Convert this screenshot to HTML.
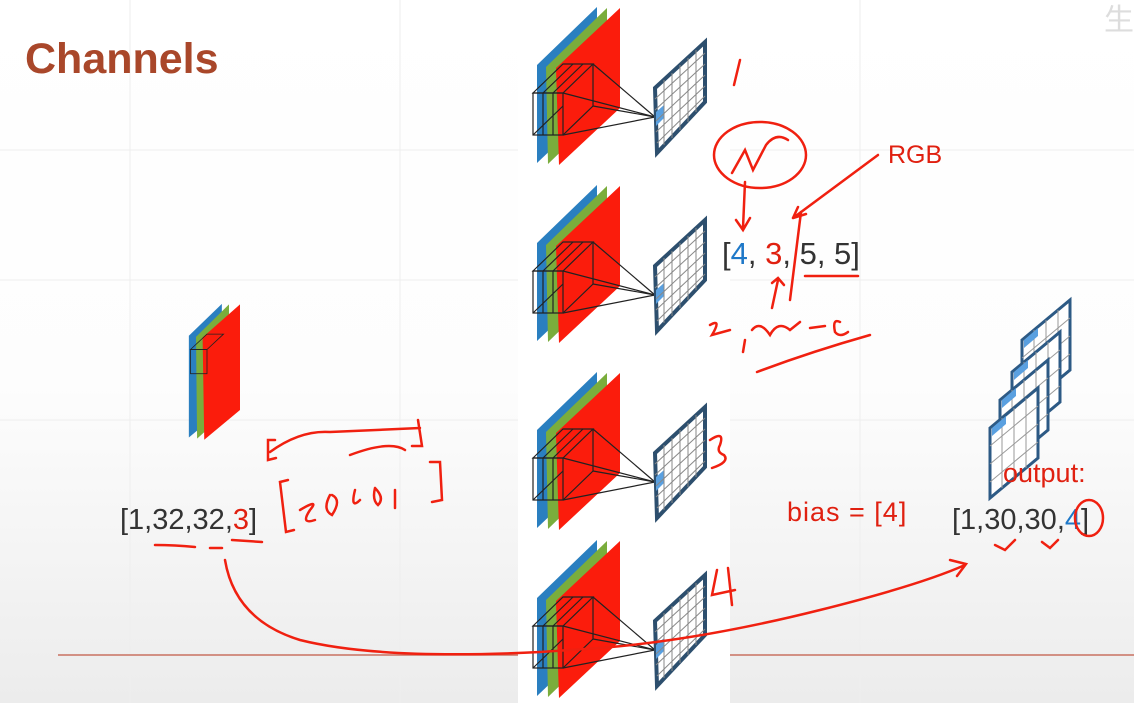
<!DOCTYPE html>
<html><head><meta charset="utf-8"><style>
html,body{margin:0;padding:0;width:1134px;height:703px;overflow:hidden;background:#fff;}
svg{display:block;font-family:"Liberation Sans",sans-serif;}
</style></head><body>
<svg width="1134" height="703" viewBox="0 0 1134 703">
<defs>
<linearGradient id="bg" x1="0" y1="0" x2="0" y2="1">
<stop offset="0" stop-color="#ffffff"/><stop offset="0.55" stop-color="#fdfdfd"/><stop offset="1" stop-color="#ececec"/>
</linearGradient>
<g id="stack">
<polygon points="537,65 597,7 597,106 537,163" fill="#2a7fc0"/>
<polygon points="546,67 607,8 607,107 548,164" fill="#7aad3c"/>
<polygon points="556,68 620,8 620,108 559,165" fill="#fb1c0c"/>
<g fill="none" stroke="#222" stroke-width="1.2">
<polygon points="533,93 563,64 593,64 563,93"/>
<rect x="533" y="93" width="30" height="42"/>
<polyline points="563,135 593,106 593,64"/>
<line x1="543" y1="93" x2="573" y2="64"/><line x1="553" y1="93" x2="583" y2="64"/>
<line x1="543" y1="93" x2="543" y2="135"/><line x1="553" y1="93" x2="553" y2="135"/>
<line x1="533" y1="135" x2="563" y2="106"/>
<line x1="563" y1="93" x2="655" y2="117"/><line x1="563" y1="135" x2="655" y2="117"/>
<line x1="593" y1="64" x2="655" y2="117"/><line x1="593" y1="106" x2="655" y2="117"/>
</g>
<polygon points="655,88 705,42 705,102 657,153" fill="#fff" stroke="#2d4f6e" stroke-width="4"/>
<polygon points="656,112 664,105 664,118 656,126" fill="#5aa0e0"/>
<g stroke="#888" stroke-width="1">
<line x1="664" y1="80" x2="664" y2="145"/><line x1="672" y1="73" x2="672" y2="138"/>
<line x1="680" y1="65" x2="680" y2="130"/><line x1="688" y1="58" x2="688" y2="122"/><line x1="696" y1="50" x2="696" y2="112"/>
<line x1="655" y1="99" x2="705" y2="53"/><line x1="655" y1="110" x2="705" y2="64"/>
<line x1="656" y1="121" x2="705" y2="75"/><line x1="656" y1="132" x2="705" y2="86"/><line x1="657" y1="143" x2="705" y2="96"/>
</g>
</g>
<g id="fmap">
<polygon points="0,40 48,0 48,70 0,110" fill="#fff" stroke="#2d5a85" stroke-width="3"/>
<g stroke="#999" stroke-width="1"><line x1="12" y1="30" x2="12" y2="100"/><line x1="24" y1="20" x2="24" y2="90"/><line x1="36" y1="10" x2="36" y2="80"/>
<line x1="0" y1="58" x2="48" y2="18"/><line x1="0" y1="76" x2="48" y2="36"/><line x1="0" y1="94" x2="48" y2="54"/></g>
<polygon points="2,40 16,28 16,36 2,48" fill="#5aa0e0"/>
</g>
</defs>
<rect x="0" y="0" width="1134" height="703" fill="url(#bg)"/>
<g stroke="#eee" stroke-width="1">
<line x1="0" y1="150" x2="1134" y2="150"/><line x1="0" y1="280" x2="1134" y2="280"/><line x1="0" y1="420" x2="1134" y2="420"/>
<line x1="130" y1="0" x2="130" y2="703"/><line x1="400" y1="0" x2="400" y2="703"/><line x1="860" y1="0" x2="860" y2="703"/>
</g>
<line x1="58" y1="655" x2="1134" y2="655" stroke="#c87060" stroke-width="1.5"/>
<rect x="518" y="0" width="212" height="703" fill="#fff"/>
<text x="25" y="73" font-size="43" font-weight="bold" fill="#a9472a">Channels</text>
<text x="1104" y="30" font-size="30" fill="#ddd">生</text>

<use href="#stack" x="0" y="0"/>
<use href="#stack" x="0" y="178"/>
<use href="#stack" x="0" y="365"/>
<use href="#stack" x="0" y="533"/>

<g transform="translate(185,300) scale(0.55) translate(-530,0)">
<polygon points="537,65 597,7 597,200 537,250" fill="#2a7fc0"/>
<polygon points="550,67 610,8 610,200 552,252" fill="#7aad3c"/>
<polygon points="562,68 630,8 630,200 565,254" fill="#fb1c0c"/>
<g fill="none" stroke="#222" stroke-width="1.5"><polygon points="540,90 570,62 600,62 570,90"/><rect x="540" y="90" width="30" height="44"/></g>
</g>

<g>
<use href="#fmap" x="1022" y="300"/><use href="#fmap" x="1012" y="332"/><use href="#fmap" x="1000" y="360"/><use href="#fmap" x="990" y="388"/>
</g>

<text x="722" y="264" font-size="31" fill="#333">[<tspan fill="#1e78c8">4</tspan>, <tspan fill="#e02010">3</tspan>, 5, 5]</text>
<text x="888" y="163" font-size="25" fill="#e02010">RGB</text>
<text x="120" y="529" font-size="29" fill="#333">[1,32,32,<tspan fill="#e02010">3</tspan>]</text>
<text x="787" y="521" font-size="27" fill="#e02010" letter-spacing="1">bias = [4]</text>
<text x="1003" y="482" font-size="27" fill="#e02010">output:</text>
<text x="952" y="529" font-size="29" fill="#333">[1,30,30,<tspan fill="#1e78c8">4</tspan>]</text>

<g fill="none" stroke="#f02010" stroke-width="2.5" stroke-linecap="round">
<path d="M740,60 L734,85"/>
<ellipse cx="760" cy="155" rx="46" ry="33"/>
<path d="M732,173 L745,150 L753,170 L766,145 Q776,132 788,140"/>
<path d="M745,182 L743,228 M736,220 L743,230 L750,218"/>
<path d="M878,155 L793,218 M793,218 L806,214 M793,218 L798,207"/>
<path d="M801,212 L790,300"/>
<path d="M805,276 L858,276"/>
<path d="M772,308 L778,280 M772,283 L778,278 L784,285"/>
<path d="M710,325 Q722,318 712,335 L730,330 M745,340 L743,352 M752,330 Q760,320 770,335 Q778,320 790,330 L800,322 M810,328 L825,326 M840,322 Q832,318 835,332 Q840,338 848,332"/>
<path d="M757,372 Q810,352 870,335"/>
<path d="M275,440 L268,440 L268,460 L276,458 M270,452 Q300,430 330,432 L420,428 M418,420 L422,446 L412,446 M350,455 Q390,440 405,450"/>
<path d="M288,480 L280,482 L286,532 L294,530 M300,510 Q320,498 310,510 Q300,525 315,520 M330,495 Q322,510 332,515 Q342,500 332,495 M355,490 Q350,510 360,500 M375,488 Q372,500 378,505 Q385,498 375,488 M395,490 L395,508 M430,462 L440,462 L442,500 L432,502"/>
<path d="M155,545 Q175,545 195,547 M210,548 L222,548 M232,540 L262,542"/>
<path d="M225,560 Q235,620 300,640 Q380,660 540,652 L600,648 Q700,640 820,610 Q920,585 965,565 M950,560 L966,564 L957,576"/>
<path d="M995,545 L1005,550 L1015,540 M1042,542 L1050,548 L1058,540"/>
<ellipse cx="1089" cy="518" rx="14" ry="18"/>
<path d="M717,570 L712,595 L735,590 M728,568 L732,605"/>
<path d="M710,440 Q725,430 720,445 Q716,452 724,455 Q730,462 712,468"/>
</g>
</svg>
</body></html>
